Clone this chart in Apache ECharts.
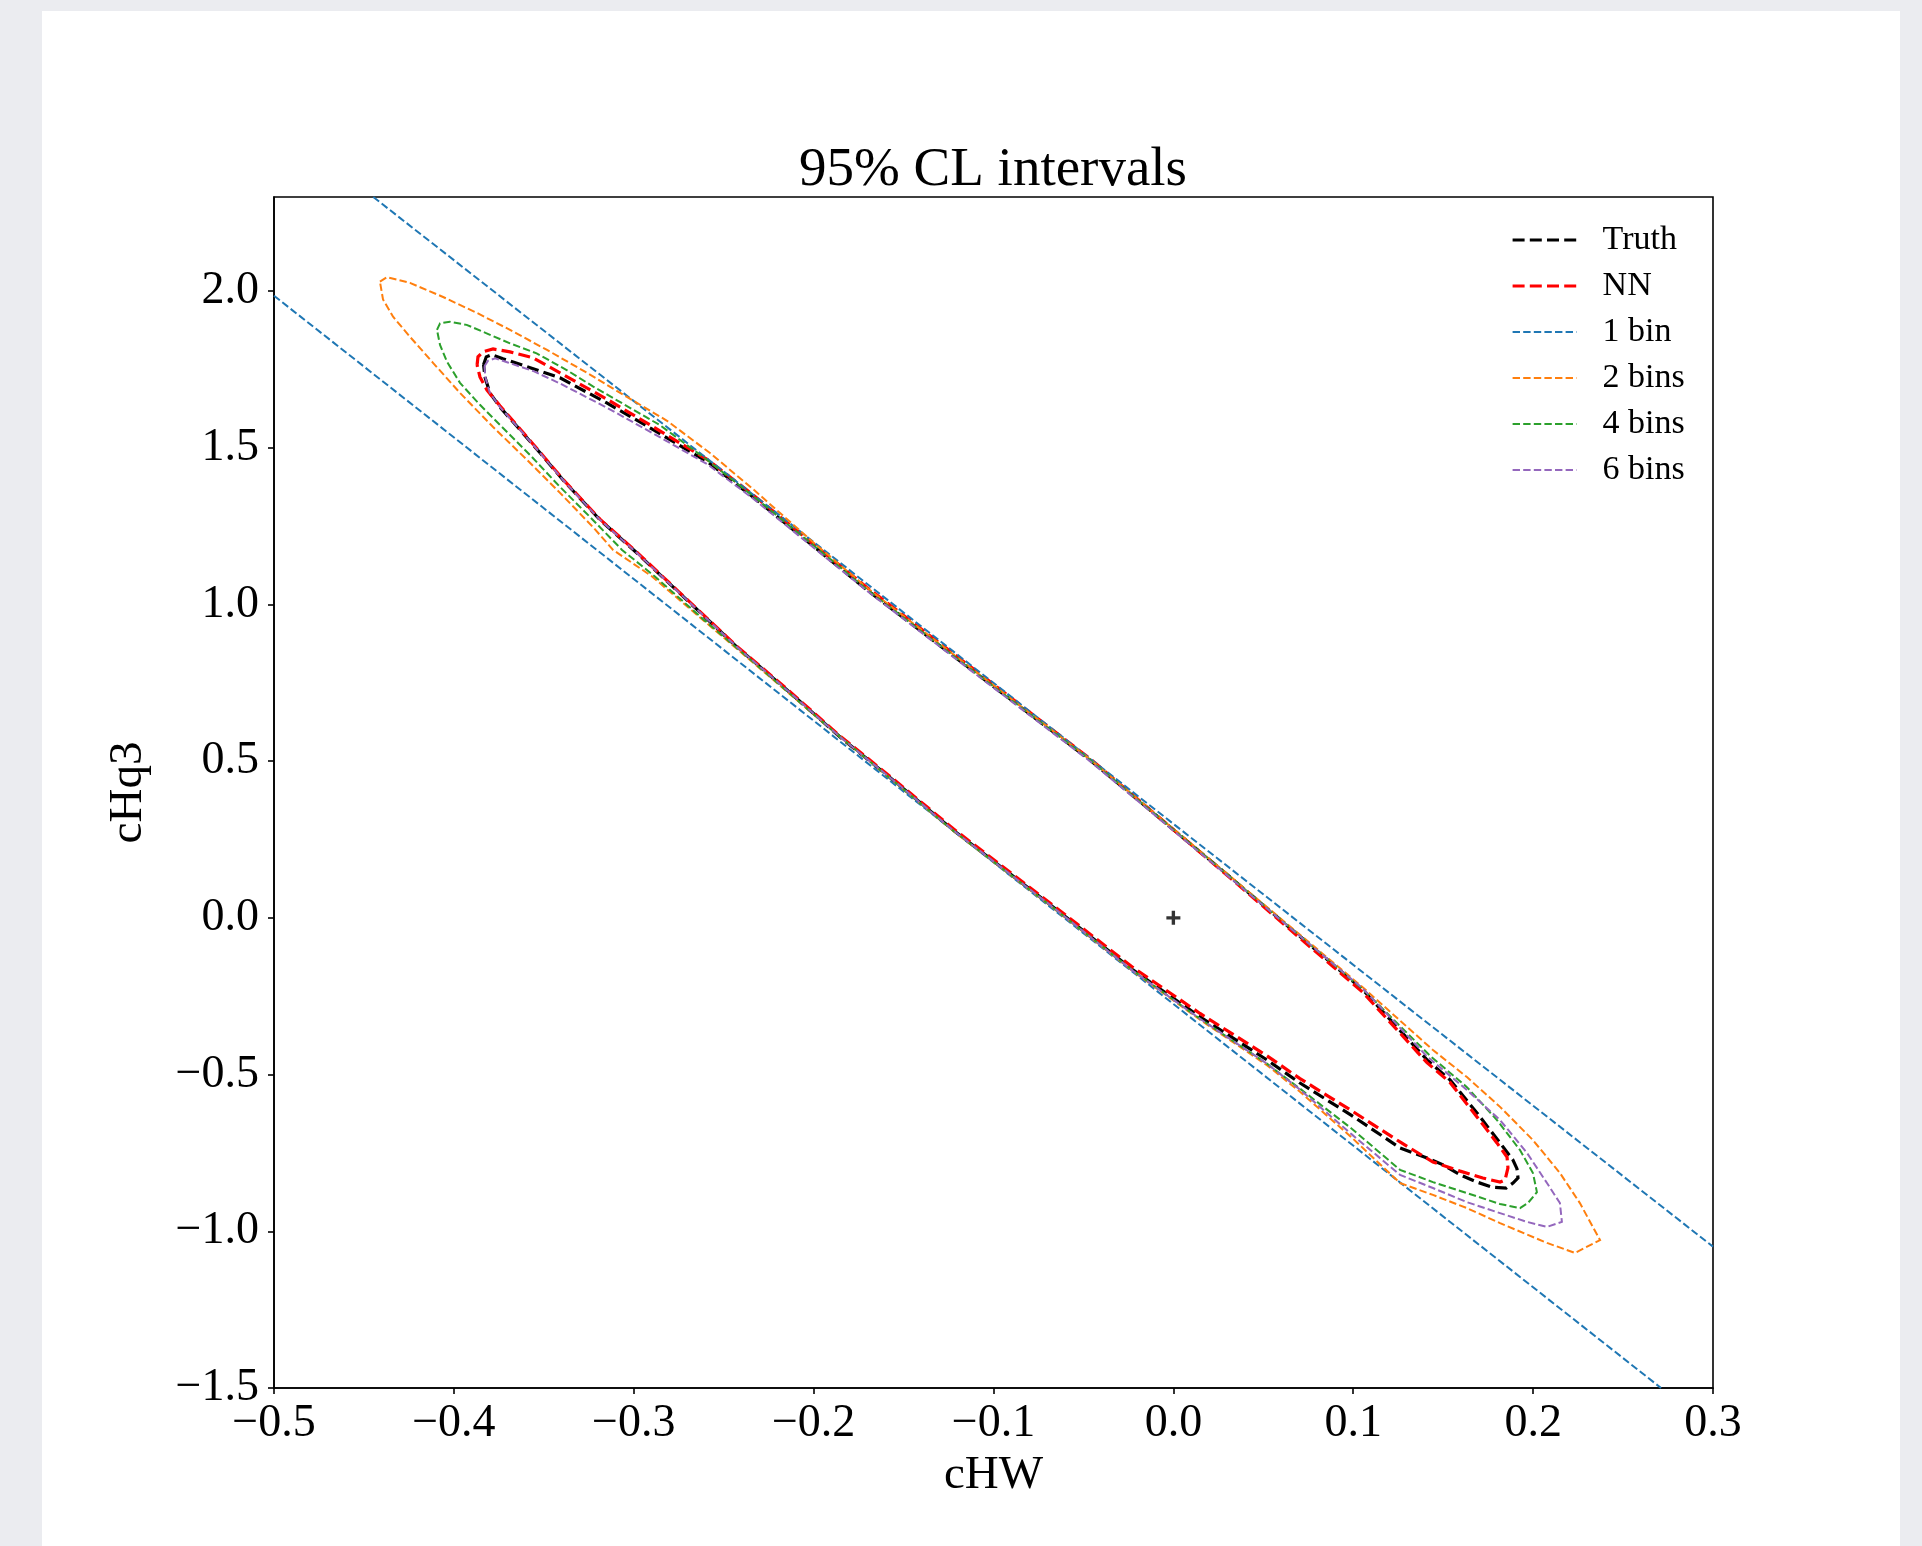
<!DOCTYPE html>
<html><head><meta charset="utf-8">
<script src="https://cdn.jsdelivr.net/npm/echarts@6/dist/echarts.min.js"></script>
<style>
html,body{margin:0;padding:0;background:#ebecf0;width:1922px;height:1546px;overflow:hidden}
#panel{position:absolute;left:42px;top:11px;width:1858px;height:1535px;background:#fff}
#chart{position:absolute;left:0;top:0;width:1922px;height:1546px}
</style></head><body>
<div id="panel"></div><div id="chart"></div>
<script>
// ---- data (cHW, cHq3) ----
const xTicks = [-0.5, -0.4, -0.3, -0.2, -0.1, 0.0, 0.1, 0.2, 0.3];
const yTicks = [-1.5, -1.0, -0.5, 0.0, 0.5, 1.0, 1.5, 2.0];
const legendNames = ['Truth', 'NN', '1 bin', '2 bins', '4 bins', '6 bins'];
const bestFit = [[0, 0]];

const truthContour = [
  [-0.3835,1.765],[-0.3820,1.790],[-0.3790,1.797],[-0.3727,1.784],[-0.3600,1.760],[-0.3410,1.723],
  [-0.3150,1.643],[-0.2890,1.557],[-0.2590,1.455],[-0.2337,1.343],[-0.2000,1.185],[-0.1705,1.047],
  [-0.1100,0.782],[-0.0464,0.504],[0.0315,0.1305],[0.1054,-0.230],[0.1410,-0.453],[0.1538,-0.517],
  [0.1688,-0.6225],[0.1816,-0.718],[0.1888,-0.7725],[0.1910,-0.800],[0.1916,-0.830],[0.1888,-0.846],
  [0.1850,-0.862],[0.1772,-0.859],[0.1688,-0.843],[0.1594,-0.820],[0.1500,-0.788],[0.1410,-0.766],
  [0.1260,-0.734],[0.0990,-0.630],[0.0704,-0.527],[0.0520,-0.453],[0.0148,-0.316],[-0.0225,-0.166],
  [-0.0669,0.035],[-0.1225,0.2805],[-0.1559,0.440],[-0.1853,0.577],[-0.2148,0.727],[-0.2426,0.864],
  [-0.2704,1.014],[-0.2982,1.164],[-0.3188,1.270],[-0.3393,1.397],[-0.3520,1.483],[-0.3632,1.557],
  [-0.3744,1.630],[-0.3800,1.675],[-0.3827,1.725],[-0.3835,1.765]
];
const nnContour = [
  [-0.3871,1.764],[-0.3866,1.790],[-0.3838,1.806],[-0.3782,1.815],[-0.3688,1.806],[-0.3560,1.787],
  [-0.3410,1.739],[-0.3150,1.655],[-0.2890,1.566],[-0.2590,1.462],[-0.2337,1.350],[-0.2000,1.192],
  [-0.1705,1.055],[-0.1100,0.789],[-0.0464,0.508],[0.0315,0.128],[0.1054,-0.238],[0.1410,-0.462],
  [0.1538,-0.525],[0.1688,-0.635],[0.1799,-0.718],[0.1855,-0.763],[0.1860,-0.798],[0.1844,-0.836],
  [0.1816,-0.843],[0.1720,-0.830],[0.1594,-0.808],[0.1443,-0.779],[0.1260,-0.715],[0.0990,-0.615],
  [0.0704,-0.513],[0.0520,-0.440],[0.0148,-0.305],[-0.0225,-0.158],[-0.0669,0.040],[-0.1225,0.285],
  [-0.1559,0.444],[-0.1853,0.580],[-0.2148,0.730],[-0.2426,0.866],[-0.2704,1.016],[-0.2982,1.166],
  [-0.3188,1.272],[-0.3393,1.399],[-0.3520,1.485],[-0.3632,1.560],[-0.3744,1.634],[-0.3816,1.684],
  [-0.3855,1.726],[-0.3871,1.764]
];
const bin1Upper = [[-0.4448,2.300],[0.3000,-1.049]];
const bin1Lower = [[-0.5000,1.985],[0.2711,-1.500]];
const bins2Contour = [
  [-0.4411,2.030],[-0.4372,2.044],[-0.4244,2.026],[-0.4060,1.981],[-0.3871,1.930],[-0.3688,1.876],
  [-0.3482,1.812],[-0.3260,1.739],[-0.3038,1.662],[-0.2815,1.586],[-0.2576,1.483],[-0.2337,1.368],
  [-0.2000,1.197],[-0.1705,1.054],[-0.1100,0.786],[-0.0464,0.506],[0.0315,0.133],[0.1054,-0.222],
  [0.1443,-0.4215],[0.1632,-0.508],[0.1816,-0.603],[0.1999,-0.709],[0.2149,-0.814],[0.2260,-0.910],
  [0.2372,-1.028],[0.2233,-1.069],[0.2077,-1.037],[0.1816,-0.974],[0.1632,-0.926],[0.1443,-0.884],
  [0.1260,-0.846],[0.0990,-0.700],[0.0704,-0.555],[0.0520,-0.470],[0.0148,-0.325],[-0.0225,-0.170],
  [-0.0669,0.032],[-0.1225,0.278],[-0.1559,0.438],[-0.1900,0.600],[-0.2307,0.800],[-0.2614,0.950],
  [-0.2900,1.090],[-0.3115,1.174],[-0.3227,1.247],[-0.3410,1.356],[-0.3593,1.461],[-0.3782,1.566],
  [-0.3966,1.675],[-0.4116,1.771],[-0.4244,1.854],[-0.4338,1.918],[-0.4394,1.973],[-0.4411,2.030]
];
const bins4Contour = [
  [-0.4094,1.876],[-0.4077,1.897],[-0.4022,1.902],[-0.3929,1.892],[-0.3818,1.865],[-0.3688,1.833],
  [-0.3540,1.801],[-0.3373,1.748],[-0.3225,1.695],[-0.2854,1.572],[-0.2590,1.460],[-0.2337,1.346],
  [-0.2000,1.188],[-0.1705,1.048],[-0.1100,0.782],[-0.0464,0.504],[0.0315,0.131],[0.1054,-0.228],
  [0.1427,-0.440],[0.1632,-0.540],[0.1799,-0.645],[0.1927,-0.741],[0.1999,-0.814],[0.2021,-0.875],
  [0.1971,-0.910],[0.1927,-0.926],[0.1816,-0.913],[0.1632,-0.878],[0.1443,-0.843],[0.1260,-0.804],
  [0.0990,-0.672],[0.0704,-0.545],[0.0520,-0.465],[0.0148,-0.322],[-0.0225,-0.168],[-0.0669,0.033],
  [-0.1225,0.279],[-0.1559,0.438],[-0.1900,0.600],[-0.2302,0.800],[-0.2608,0.950],[-0.2884,1.090],
  [-0.3065,1.174],[-0.3243,1.279],[-0.3410,1.375],[-0.3577,1.477],[-0.3744,1.573],[-0.3855,1.637],
  [-0.3966,1.707],[-0.4038,1.774],[-0.4077,1.828],[-0.4094,1.876]
];
const bins6Contour = [
  [-0.3830,1.760],[-0.3810,1.778],[-0.3770,1.785],[-0.3700,1.772],[-0.3560,1.745],[-0.3410,1.705],
  [-0.3150,1.628],[-0.2890,1.545],[-0.2590,1.447],[-0.2337,1.338],[-0.2000,1.181],[-0.1705,1.044],
  [-0.1100,0.778],[-0.0464,0.500],[0.0315,0.128],[0.1054,-0.226],[0.1410,-0.442],[0.1632,-0.549],
  [0.1816,-0.645],[0.1966,-0.750],[0.2077,-0.846],[0.2149,-0.910],[0.2160,-0.970],[0.2077,-0.986],
  [0.1966,-0.970],[0.1816,-0.942],[0.1632,-0.907],[0.1443,-0.862],[0.1260,-0.820],[0.0990,-0.690],
  [0.0704,-0.548],[0.0520,-0.465],[0.0148,-0.322],[-0.0225,-0.169],[-0.0669,0.034],[-0.1225,0.280],
  [-0.1559,0.440],[-0.1853,0.577],[-0.2148,0.727],[-0.2426,0.864],[-0.2704,1.014],[-0.2982,1.164],
  [-0.3188,1.270],[-0.3393,1.397],[-0.3520,1.483],[-0.3632,1.557],[-0.3744,1.630],[-0.3800,1.675],
  [-0.3825,1.725],[-0.3830,1.760]
];

// ---- styling ----
const FONT = '"Liberation Serif", "DejaVu Serif", serif';
const C = {truth:'#000000', nn:'#ff0000', b1:'#1f77b4', b2:'#ff7f0e', b4:'#2ca02c', b6:'#9467bd'};
const thickDash = [12, 5.2], thinDash = [7.4, 3.2];
const NO_SYMBOL = {opacity:0, color:'rgba(0,0,0,0)', borderColor:'rgba(0,0,0,0)', borderWidth:0};

function fmt(v){
  const r = Math.round(v*10)/10;
  if (Math.abs(r) < 1e-9) return '0.0';
  return (r < 0 ? '\u2212' : '') + Math.abs(r).toFixed(1);
}
function contour(name, data, color, width, dash, z){
  return {type:'line', name:name, data:data, symbol:'none', showSymbol:false, smooth:false,
    clip:true, silent:true, z:z, itemStyle:{color:color},
    lineStyle:{color:color, width:width, type:dash, cap:'butt', join:'miter'}};
}
function legendItem(name, w){
  return {name:name, lineStyle:{width:w}, itemStyle:NO_SYMBOL};
}

const chart = echarts.init(document.getElementById('chart'), null, {renderer:'canvas'});
const option = {
  animation:false,
  backgroundColor:'transparent',
  title:{text:'95% CL intervals', left:993, top:143, textAlign:'center', padding:0,
    textStyle:{fontFamily:FONT, fontSize:55, fontWeight:'normal', color:'#000'}},
  grid:{left:274, top:197, width:1439, height:1191, show:true, borderColor:'#000', borderWidth:1.6,
    backgroundColor:'transparent', containLabel:false, outerBoundsMode:'none'},
  legend:{orient:'vertical', left:1506, top:218, itemWidth:64, itemHeight:14, itemGap:12,
    selectedMode:false, itemStyle:NO_SYMBOL,
    textStyle:{fontFamily:FONT, fontSize:34, color:'#000', padding:[0,0,0,21]},
    data:[
      legendItem('Truth', 3.2), legendItem('NN', 3.2), legendItem('1 bin', 2),
      legendItem('2 bins', 2), legendItem('4 bins', 2), legendItem('6 bins', 2)
    ]},
  xAxis:{type:'value', min:-0.5, max:0.3, interval:0.1,
    axisLine:{show:true, onZero:false, lineStyle:{color:'#000', width:1.6}},
    axisTick:{show:true, inside:false, length:6, lineStyle:{color:'#000', width:1.6}, customValues:xTicks},
    axisLabel:{customValues:xTicks, formatter:fmt, margin:13, fontFamily:FONT, fontSize:46, color:'#000'},
    splitLine:{show:false},
    name:'cHW', nameLocation:'middle', nameGap:64,
    nameTextStyle:{fontFamily:FONT, fontSize:47, color:'#000'}},
  yAxis:{type:'value', min:-1.5, max:2.3, interval:0.5,
    axisLine:{show:true, onZero:false, lineStyle:{color:'#000', width:1.6}},
    axisTick:{show:true, inside:false, length:6, lineStyle:{color:'#000', width:1.6}, customValues:yTicks},
    axisLabel:{customValues:yTicks, formatter:fmt, margin:15, fontFamily:FONT, fontSize:46, color:'#000'},
    splitLine:{show:false},
    name:'cHq3', nameLocation:'middle', nameGap:122, nameRotate:90,
    nameTextStyle:{fontFamily:FONT, fontSize:47, color:'#000'}},
  series:[
    contour('Truth', truthContour, C.truth, 3.2, thickDash, 3),
    contour('NN', nnContour, C.nn, 3.2, thickDash, 4),
    contour('1 bin', bin1Upper, C.b1, 2, thinDash, 5),
    contour('1 bin', bin1Lower, C.b1, 2, thinDash, 5),
    contour('2 bins', bins2Contour, C.b2, 2, thinDash, 6),
    contour('4 bins', bins4Contour, C.b4, 2, thinDash, 7),
    contour('6 bins', bins6Contour, C.b6, 2, thinDash, 8),
    {type:'scatter', name:'best fit', data:bestFit, z:10, silent:true,
      symbol:'path://M-0.12,-0.5L0.12,-0.5L0.12,-0.12L0.5,-0.12L0.5,0.12L0.12,0.12L0.12,0.5L-0.12,0.5L-0.12,0.12L-0.5,0.12L-0.5,-0.12L-0.12,-0.12Z',
      symbolSize:14, itemStyle:{color:'#000'}}
  ]
};
chart.setOption(option);
</script></body></html>
